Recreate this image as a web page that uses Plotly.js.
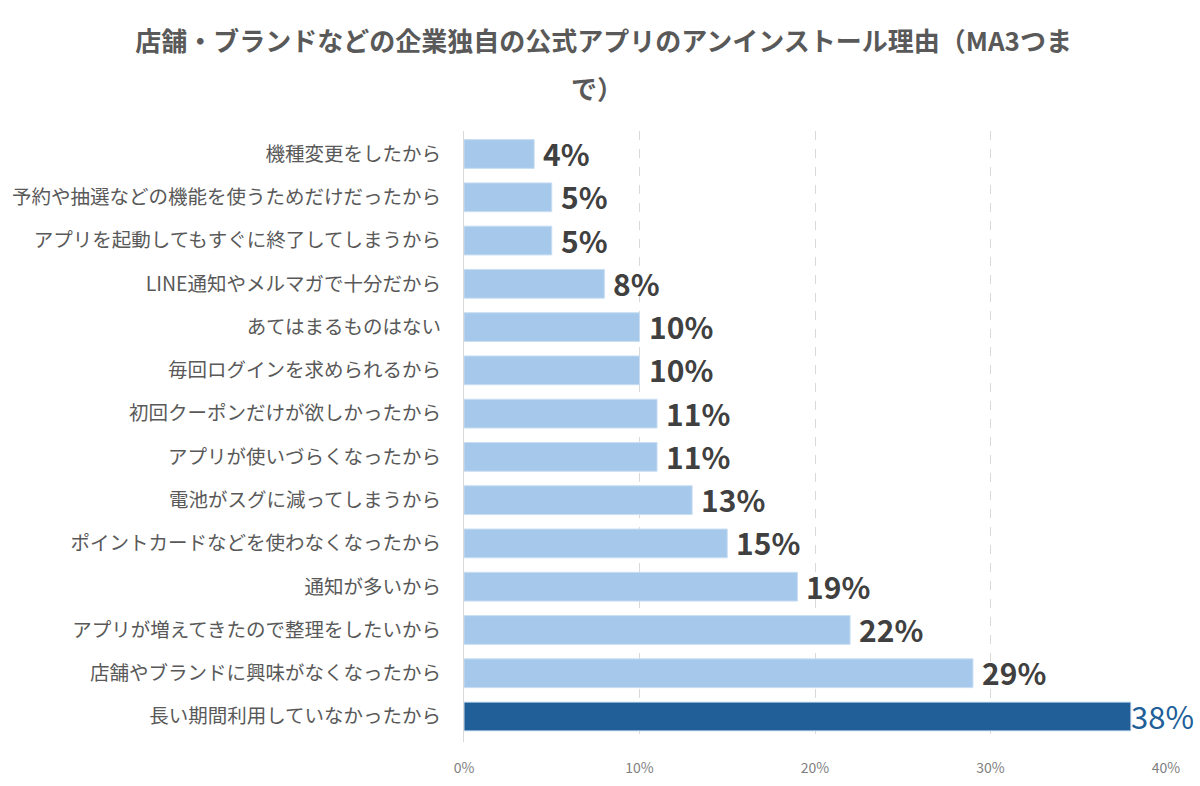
<!DOCTYPE html>
<html>
<head>
<meta charset="utf-8">
<script src="https://cdn.plot.ly/plotly-3.0.1.min.js"></script>
<style>
  html, body { margin: 0; padding: 0; background: #fff; }
  #chart { width: 1200px; height: 786px; }
</style>
</head>
<body>
<div id="chart"></div>
<script>
// Reasons, top to bottom as shown
const reasons = [
    "機種変更をしたから",
    "予約や抽選などの機能を使うためだけだったから",
    "アプリを起動してもすぐに終了してしまうから",
    "LINE通知やメルマガで十分だから",
    "あてはまるものはない",
    "毎回ログインを求められるから",
    "初回クーポンだけが欲しかったから",
    "アプリが使いづらくなったから",
    "電池がスグに減ってしまうから",
    "ポイントカードなどを使わなくなったから",
    "通知が多いから",
    "アプリが増えてきたので整理をしたいから",
    "店舗やブランドに興味がなくなったから",
    "長い期間利用していなかったから"
];
const shares = [4, 5, 5, 8, 10, 10, 11, 11, 13, 15, 19, 22, 29, 38];
const xTicks = [0, 10, 20, 30, 40];
const xTickText = ["0%", "10%", "20%", "30%", "40%"];

const titleLine1 = "店舗・ブランドなどの企業独自の公式アプリのアンインストール理由（MA3つま";
const titleLine2 = "で）";

const FONT = '"Noto Sans CJK JP", "Noto Sans", sans-serif';
const lightBlue = '#a6c9eb', darkBlue = '#215f99';

// highlight the top reason
const topIdx = shares.indexOf(Math.max(...shares));
const barColors = shares.map((v, i) => i === topIdx ? darkBlue : lightBlue);

const trace = {
    type: 'bar', orientation: 'h',
    x: shares, y: reasons,
    marker: { color: barColors, line: { color: '#c9def3', width: 1 } },
    hoverinfo: 'skip'
};

// value labels next to each bar
const labels = shares.map((v, i) => ({
    x: v, y: reasons[i], xref: 'x', yref: 'y',
    text: i === topIdx ? v + '%' : '<b>' + v + '%</b>',
    showarrow: false, xanchor: 'left', yanchor: 'middle',
    xshift: i === topIdx ? -2 : 7, yshift: 1,
    font: { family: FONT, size: i === topIdx ? 31 : 30, color: i === topIdx ? darkBlue : '#404040' }
}));

// second title line sits under the first, centred on the page
labels.push({
    x: 0.189, y: 1.072, xref: 'paper', yref: 'paper',
    text: '<b>' + titleLine2 + '</b>', showarrow: false,
    xanchor: 'center', yanchor: 'middle',
    font: { family: FONT, size: 26, color: '#595959' }
});

const layout = {
    width: 1200, height: 786,
    margin: { l: 464, r: 34, t: 131, b: 44 },
    paper_bgcolor: '#fff', plot_bgcolor: '#fff',
    showlegend: false,
    bargap: 0.335,
    title: {
        text: '<b>' + titleLine1 + '</b>',
        xref: 'container', x: 0.503, xanchor: 'center',
        yref: 'container', y: 0.947, yanchor: 'middle',
        font: { family: FONT, size: 26, color: '#595959' }
    },
    xaxis: {
        range: [0, 40], tickvals: xTicks, ticktext: xTickText,
        showgrid: true, gridcolor: '#d9d9d9', griddash: 'dash', gridwidth: 1,
        zeroline: false, showline: false,
        ticks: 'outside', ticklen: 13, tickcolor: 'rgba(0,0,0,0)',
        tickfont: { family: FONT, size: 14, color: '#808080' },
        fixedrange: true
    },
    yaxis: {
        autorange: 'reversed', type: 'category',
        showgrid: false, zeroline: false,
        showline: true, linecolor: '#d9d9d9', linewidth: 1,
        ticks: 'outside', ticklen: 18, tickcolor: 'rgba(0,0,0,0)',
        tickfont: { family: FONT, size: 19.5, color: '#595959' },
        fixedrange: true
    },
    annotations: labels
};

Plotly.newPlot('chart', [trace], layout, { displayModeBar: false, staticPlot: true });
</script>
</body>
</html>
